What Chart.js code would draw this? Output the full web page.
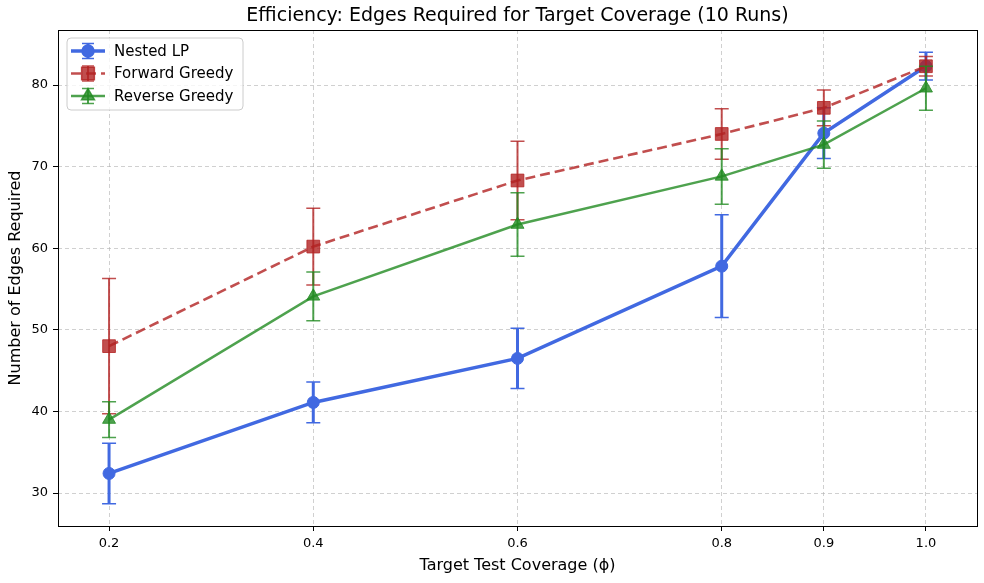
<!DOCTYPE html>
<html>
<head>
<meta charset="utf-8">
<script src="https://cdn.jsdelivr.net/npm/chart.js@4.4.1/dist/chart.umd.min.js"></script>
<style>
  html, body { margin: 0; padding: 0; background: #fff; overflow: hidden; }
  canvas { display: block; }
</style>
</head>
<body>
<canvas id="chart" width="984" height="583"></canvas>
<script>
// data
const coverage = [0.2, 0.4, 0.6, 0.8, 0.9, 1.0];
const xTicks = [0.2, 0.4, 0.6, 0.8, 0.9, 1.0];
const yTicks = [30, 40, 50, 60, 70, 80];

const nestedMean = [32.4, 41.1, 46.5, 57.8, 74.1, 82.3];
const nestedErr  = [3.7, 2.5, 3.7, 6.3, 3.1, 1.7];

const forwardMean = [48.0, 60.2, 68.3, 74.0, 77.2, 82.3];
const forwardErr  = [8.3, 4.7, 4.8, 3.1, 2.2, 1.2];

const reverseMean = [39.0, 54.1, 62.9, 68.8, 72.7, 79.6];
const reverseErr  = [2.2, 3.0, 3.9, 3.4, 2.9, 2.7];

const FONT = "'DejaVu Sans', sans-serif";

function points(vals) {
  return vals.map((v, i) => ({x: coverage[i], y: v}));
}

const series = [
  {label: 'Nested LP', mean: nestedMean, err: nestedErr, color: 'rgb(65,105,225)',
   alphaColor: 'rgb(65,105,225)', style: 'circle', radius: 6, width: 3.5, dash: [], errWidth: 3},
  {label: 'Forward Greedy', mean: forwardMean, err: forwardErr, color: 'rgb(178,34,34)',
   alphaColor: 'rgba(178,34,34,0.8)', style: 'rect', radius: 9, width: 2.6, dash: [10, 5], errWidth: 2},
  {label: 'Reverse Greedy', mean: reverseMean, err: reverseErr, color: 'rgb(34,139,34)',
   alphaColor: 'rgba(34,139,34,0.8)', style: 'triangle', radius: 7.5, width: 2.5, dash: [], errWidth: 2}
];

function drawMarker(ctx, s, x, y) {
  Chart.helpers.drawPoint(ctx, {pointStyle: s.style, radius: s.radius, borderWidth: 1}, x, y);
}

// error bars, drawn under each dataset's own line
const errorBars = {
  id: 'errorBars',
  beforeDatasetDraw(chart, args) {
    const s = series[args.index];
    const xs = chart.scales.x, ys = chart.scales.y;
    const ctx = chart.ctx;
    ctx.save();
    ctx.strokeStyle = s.alphaColor;
    s.mean.forEach((m, i) => {
      const px = xs.getPixelForValue(coverage[i]);
      const top = ys.getPixelForValue(m + s.err[i]);
      const bot = ys.getPixelForValue(m - s.err[i]);
      ctx.lineWidth = s.errWidth;
      ctx.beginPath();
      ctx.moveTo(px, top);
      ctx.lineTo(px, bot);
      ctx.stroke();
      ctx.lineWidth = 1.5;
      ctx.beginPath();
      ctx.moveTo(px - 7, top); ctx.lineTo(px + 7, top);
      ctx.moveTo(px - 7, bot); ctx.lineTo(px + 7, bot);
      ctx.stroke();
    });
    ctx.restore();
  },
  afterDraw(chart) {
    const ctx = chart.ctx;
    const a = chart.chartArea;
    ctx.save();
    // spines
    ctx.strokeStyle = '#000';
    ctx.lineWidth = 1;
    ctx.strokeRect(Math.round(a.left) + 0.5, Math.round(a.top) + 0.5,
      Math.round(a.right - a.left), Math.round(a.bottom - a.top));

    // title
    ctx.fillStyle = '#000';
    ctx.font = "19px " + FONT;
    ctx.textAlign = 'center';
    ctx.textBaseline = 'middle';
    ctx.fillText('Efficiency: Edges Required for Target Coverage (10 Runs)', (a.left + a.right) / 2, 16);

    // legend
    const lx = a.left + 9, ly = a.top + 8, lw = 176, lh = 72;
    ctx.beginPath();
    ctx.roundRect(lx, ly, lw, lh, 4);
    ctx.fillStyle = 'rgba(255,255,255,0.8)';
    ctx.fill();
    ctx.strokeStyle = '#cccccc';
    ctx.lineWidth = 1;
    ctx.stroke();
    series.forEach((s, i) => {
      const cy = ly + 13 + i * 22.5;
      const cx = lx + 21;
      ctx.strokeStyle = s.alphaColor;
      ctx.fillStyle = s.alphaColor;
      ctx.lineWidth = s.width;
      ctx.setLineDash(s.dash);
      ctx.beginPath();
      ctx.moveTo(lx + 4, cy); ctx.lineTo(lx + 38, cy);
      ctx.stroke();
      ctx.setLineDash([]);
      ctx.lineWidth = s.errWidth;
      ctx.beginPath();
      ctx.moveTo(cx, cy - 7.5); ctx.lineTo(cx, cy + 7.5);
      ctx.stroke();
      ctx.lineWidth = 1.5;
      ctx.beginPath();
      ctx.moveTo(cx - 6, cy - 7.5); ctx.lineTo(cx + 6, cy - 7.5);
      ctx.moveTo(cx - 6, cy + 7.5); ctx.lineTo(cx + 6, cy + 7.5);
      ctx.stroke();
      drawMarker(ctx, s, cx, cy);
      ctx.fillStyle = '#000';
      ctx.font = "15px " + FONT;
      ctx.textAlign = 'left';
      ctx.textBaseline = 'middle';
      ctx.fillText(s.label, lx + 47, cy + 1);
    });
    ctx.restore();
  }
};

new Chart(document.getElementById('chart'), {
  type: 'line',
  data: {
    datasets: series.map((s, i) => ({
      label: s.label,
      data: points(s.mean),
      borderColor: s.alphaColor,
      backgroundColor: s.alphaColor,
      borderWidth: s.width,
      borderDash: s.dash,
      pointStyle: s.style,
      pointRadius: s.radius,
      pointBorderWidth: 1,
      pointHoverRadius: s.radius,
      tension: 0,
      order: 3 - i
    }))
  },
  options: {
    responsive: false,
    animation: false,
    layout: {autoPadding: false, padding: {top: 30, right: 7, left: 0, bottom: 0}},
    plugins: {
      legend: {display: false},
      tooltip: {enabled: false}
    },
    scales: {
      x: {
        type: 'linear',
        min: 0.15,
        max: 1.05,
        afterBuildTicks: scale => { scale.ticks = xTicks.map(v => ({value: v})); },
        afterFit: scale => { scale.height = 57; scale.paddingLeft = 0; scale.paddingRight = 0; },
        ticks: {
          color: '#000',
          font: {family: FONT, size: 13},
          padding: 5,
          maxRotation: 0,
          callback: v => v.toFixed(1)
        },
        grid: {color: 'rgba(176,176,176,0.6)', lineWidth: 1, tickColor: '#000', tickLength: 5, tickWidth: 1},
        border: {display: false, dash: [4, 3]},
        title: {display: true, text: 'Target Test Coverage (ϕ)', color: '#000',
                font: {family: FONT, size: 16}, padding: {top: 0, bottom: 8}}
      },
      y: {
        type: 'linear',
        min: 25.96,
        max: 86.74,
        afterBuildTicks: scale => { scale.ticks = yTicks.map(v => ({value: v})); },
        afterFit: scale => { scale.width = 58; scale.paddingTop = 0; scale.paddingBottom = 0; },
        ticks: {
          color: '#000',
          font: {family: FONT, size: 13},
          padding: 5
        },
        grid: {color: 'rgba(176,176,176,0.6)', lineWidth: 1, tickColor: '#000', tickLength: 5, tickWidth: 1},
        border: {display: false, dash: [4, 3]},
        title: {display: true, text: 'Number of Edges Required', color: '#000',
                font: {family: FONT, size: 16}, padding: {top: 6, bottom: 0}}
      }
    }
  },
  plugins: [errorBars]
});
</script>
</body>
</html>
